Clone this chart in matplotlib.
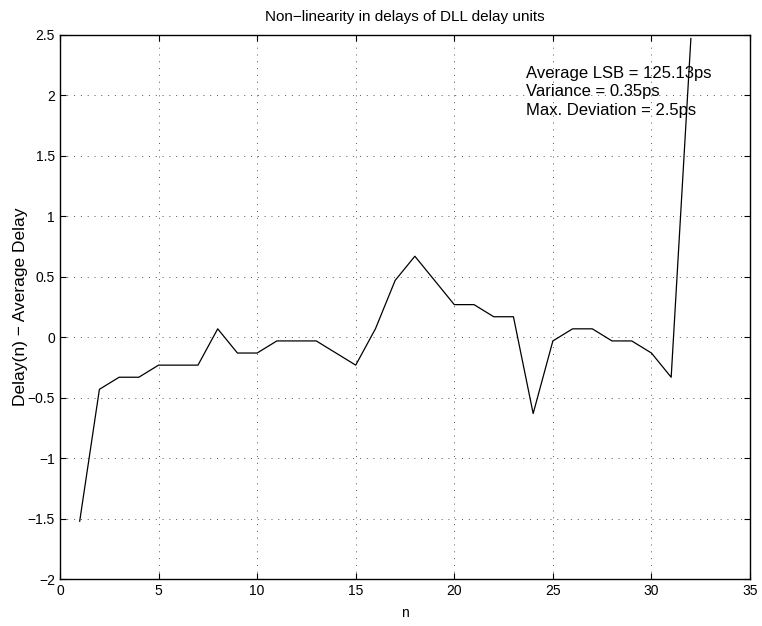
import matplotlib
matplotlib.use("Agg")
import matplotlib.pyplot as plt
from matplotlib.ticker import FuncFormatter

plt.rcParams['font.family'] = ['Liberation Sans', 'DejaVu Sans']

# delay unit index and deviation from the average delay (ps)
n = list(range(1, 33))
deviation = [-1.52, -0.43, -0.33, -0.33, -0.23, -0.23, -0.23, 0.07,
             -0.13, -0.13, -0.03, -0.03, -0.03, -0.13, -0.23, 0.07,
             0.47, 0.67, 0.47, 0.27, 0.27, 0.17, 0.17, -0.63,
             -0.03, 0.07, 0.07, -0.03, -0.03, -0.13, -0.33, 2.47]

x_ticks = [0, 5, 10, 15, 20, 25, 30, 35]
y_ticks = [-2, -1.5, -1, -0.5, 0, 0.5, 1, 1.5, 2, 2.5]
info = "Average LSB = 125.13ps\nVariance = 0.35ps\nMax. Deviation = 2.5ps"

fig = plt.figure(figsize=(7.62, 6.26), dpi=100)
ax = fig.add_axes([0.0787, 0.0746, 0.9056, 0.8698])

ax.plot(n, deviation, color='black', linewidth=0.9)

ax.set_xlim(0, 35)
ax.set_ylim(-2, 2.5)
ax.set_xticks(x_ticks)
ax.set_yticks(y_ticks)
ax.yaxis.set_major_formatter(FuncFormatter(lambda v, p: ('%g' % v).replace('-', '\u2212')))
ax.tick_params(direction='in', top=True, right=True, labelsize=10, length=4)
ax.grid(True, linestyle=(0, (1, 6)), color='#555555', linewidth=0.7)
for s in ax.spines.values():
    s.set_linewidth(1.0)

ax.text(23.66, 2.245, info, fontsize=12, va='top', ha='left', linespacing=1.3)

ax.set_title("Non\u2212linearity in delays of DLL delay units", fontsize=11, pad=10)
ax.set_xlabel("n", fontsize=10, labelpad=6)
ax.set_ylabel("Delay(n) \u2212 Average Delay", fontsize=12.5, labelpad=0)

fig.savefig("out.png", dpi=100)
